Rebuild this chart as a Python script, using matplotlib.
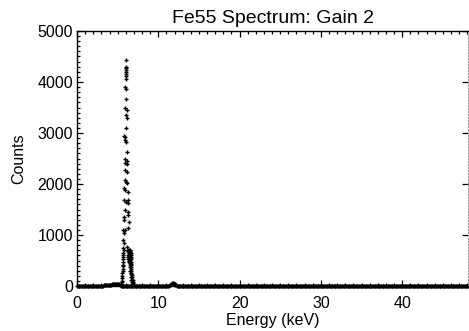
import matplotlib
matplotlib.use("Agg")
import matplotlib.pyplot as plt
import numpy as np
from matplotlib.ticker import MultipleLocator

plt.rcParams['font.family'] = ['Liberation Sans', 'DejaVu Sans']

# spectrum in 0.1 keV channels (mostly empty, small tail below the peak, bump at 12 keV)
channel_width = 0.1
counts = ([0] * 28
          + [3, 4, 5, 6, 8, 10, 12, 14, 15, 18, 20, 22, 25, 25, 28, 30,
             32, 35, 38, 40, 42, 40, 38, 35, 30, 25]
          + [0] * 60
          + [10, 25, 40, 55, 60, 50, 35, 20, 10, 5]
          + [0] * 358)

# Mn K-alpha points (keV, counts)
ka_energy = [6.03, 6.03, 6.03, 6.03, 6.03, 6.03, 6.03, 6.03,
             5.94, 6.03, 6.03, 5.94, 6.11, 6.03, 6.11, 6.03,
             5.78, 5.94, 5.86, 6.03, 6.19, 5.86, 6.11, 5.94, 6.19,
             5.94, 6.11, 5.86, 6.03, 6.19, 5.78, 5.94, 6.31,
             5.82, 6.03, 6.27, 6.27, 5.86, 6.27, 6.27, 5.78, 5.82,
             6.36, 5.70, 5.78, 5.90, 6.27, 5.70, 5.82, 6.11,
             5.74, 5.72, 5.70, 5.68, 5.66, 5.64, 5.62, 5.60, 5.58,
             5.56, 5.54, 5.52, 5.50, 5.46, 5.42, 5.70, 5.66, 5.62]
ka_counts = [4440, 4300, 4270, 4230, 4200, 4160, 4110, 4060,
             3895, 3856, 3660, 3484, 3450, 3350, 3300, 3090,
             2940, 2915, 2860, 2830, 2634, 2484, 2450, 2405, 2385,
             2275, 2240, 2080, 2045, 2013, 1915, 1882, 1850,
             1686, 1654, 1686, 1620, 1490, 1457, 1392, 1360, 1294,
             1261, 1098, 1033, 1098, 1130, 902, 836, 771,
             700, 600, 750, 650, 560, 480, 400, 330, 260,
             200, 150, 100, 70, 40, 20, 520, 420, 300]

# Mn K-beta points
kb_energy = [6.25, 6.28, 6.31, 6.34, 6.37, 6.40, 6.43, 6.46,
             6.49, 6.52, 6.55, 6.58, 6.61, 6.64, 6.67, 6.70,
             6.25, 6.28, 6.31, 6.34, 6.37, 6.40, 6.43, 6.46,
             6.49, 6.52, 6.55, 6.58, 6.61, 6.64, 6.67, 6.70,
             6.55, 6.60, 6.65, 6.70, 6.75, 6.80, 6.85, 6.88, 6.90, 6.92,
             6.50, 6.55, 6.60, 6.65, 6.70, 6.75, 6.80, 6.84]
kb_counts = [690, 700, 680, 705, 670, 695, 650, 700,
             640, 690, 620, 660, 600, 640, 560, 520,
             560, 600, 520, 580, 500, 610, 470, 560,
             480, 540, 450, 520, 430, 480, 420, 380,
             380, 330, 300, 260, 220, 170, 120, 80, 50, 20,
             420, 300, 240, 180, 120, 80, 40, 10]

channel_energy = np.arange(len(counts)) * channel_width

fig = plt.figure(figsize=(4.69, 3.31), dpi=100)
ax = fig.add_axes([77/469, 45/331, 391/469, 255/331])

mk = dict(ls='none', marker='+', ms=2.6, mew=1.0, color='black', clip_on=False)
ax.plot(channel_energy, counts, **mk)
ax.plot(ka_energy, ka_counts, **mk)
ax.plot(kb_energy, kb_counts, **mk)

ax.set_xlim(0, 48.1)
ax.set_ylim(0, 5000)
ax.xaxis.set_major_locator(MultipleLocator(10))
ax.xaxis.set_minor_locator(MultipleLocator(1))
ax.yaxis.set_major_locator(MultipleLocator(1000))
ax.yaxis.set_minor_locator(MultipleLocator(100))
ax.tick_params(which='both', direction='in', top=True, right=True, width=0.9)
ax.tick_params(which='major', length=4.5)
ax.tick_params(which='minor', length=2.2)
ax.tick_params(axis='y', which='minor', right=False)
ax.tick_params(axis='x', which='major', labelsize=11.5, pad=7)
ax.tick_params(axis='y', which='major', labelsize=11.5, pad=3)
for s in ['left', 'bottom', 'top']:
    ax.spines[s].set_linewidth(1.0)
ax.spines['right'].set_linestyle(':')
ax.spines['right'].set_color('0.6')

ax.set_xlabel("Energy (keV)", fontsize=11.5, labelpad=2)
ax.set_ylabel("Counts", fontsize=11.5, labelpad=8)
ax.set_title("Fe55 Spectrum: Gain 2", fontsize=14, pad=6)

plt.savefig("out.png", dpi=100)
